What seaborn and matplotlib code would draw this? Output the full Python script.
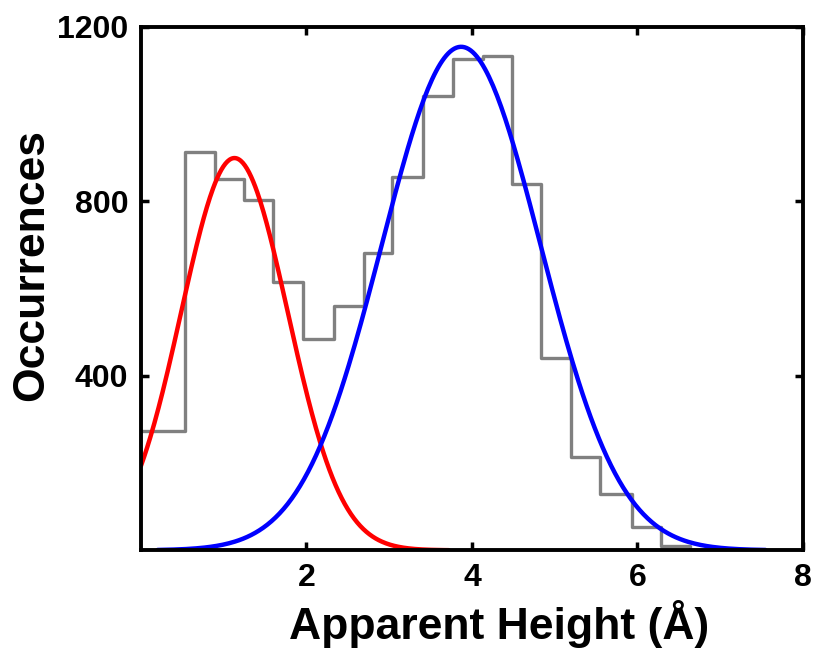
import numpy as np
import pandas as pd
import matplotlib
matplotlib.use("Agg")
import matplotlib.pyplot as plt
import seaborn as sns

# Histogram of apparent heights (bin edges in Angstrom, counts per bin)
bin_edges = [0.0, 0.53, 0.89, 1.24, 1.60, 1.96, 2.33, 2.69, 3.04, 3.41, 3.77,
             4.13, 4.48, 4.84, 5.20, 5.55, 5.94, 6.29, 6.64, 8.0]
counts = [273, 913, 851, 803, 615, 484, 560, 681, 856, 1041, 1126,
          1134, 839, 440, 213, 128, 53, 9, 0]

# Gaussian fit parameters: amplitude, centre, sigma, drawn range
red_fit = [899, 1.13, 0.645, 0.0, 3.72]
blue_fit = [1154, 3.87, 0.96, 0.20, 7.55]

sns.set_style("ticks")
plt.rcParams['font.family'] = ['Liberation Sans', 'DejaVu Sans']
plt.rcParams['font.weight'] = 'bold'
plt.rcParams['text.color'] = 'black'
plt.rcParams['axes.labelcolor'] = 'black'
plt.rcParams['xtick.color'] = 'black'
plt.rcParams['ytick.color'] = 'black'

fig = plt.figure(figsize=(8.15, 6.52), dpi=100)
ax = fig.add_axes([0.173, 0.156, 0.812, 0.803])

centers = [(a + b) / 2 for a, b in zip(bin_edges[:-1], bin_edges[1:])]
hist_df = pd.DataFrame({"height": centers, "n": counts})
sns.histplot(data=hist_df, x="height", weights="n", bins=bin_edges,
             element="step", fill=False, color="#808080", linewidth=2.4, ax=ax)


def gauss_curve(p):
    a, mu, s, x0, x1 = p
    xs = np.linspace(x0, x1, 300)
    return pd.DataFrame({"x": xs, "y": a * np.exp(-(xs - mu) ** 2 / (2 * s ** 2))})


sns.lineplot(data=gauss_curve(red_fit), x="x", y="y", color="#ff0000", linewidth=3.2, ax=ax)
sns.lineplot(data=gauss_curve(blue_fit), x="x", y="y", color="#0000ff", linewidth=3.2, ax=ax)

ax.set_xlim(0, 8)
ax.set_ylim(0, 1200)
ax.set_xticks([2, 4, 6, 8])
ax.set_yticks([400, 800, 1200])
ax.tick_params(direction="in", length=6, width=2.5, labelsize=23,
               top=True, right=True, pad=9, colors="black")
for lab in ax.get_xticklabels() + ax.get_yticklabels():
    lab.set_fontweight("bold")
for sp in ax.spines.values():
    sp.set_linewidth(2.8)
    sp.set_color("black")

ax.set_xlabel("Apparent Height (Å)", fontsize=32, fontweight="bold", labelpad=5)
ax.set_ylabel("Occurrences", fontsize=32, fontweight="bold", labelpad=4)
ax.xaxis.label.set_x(0.541)
ax.yaxis.label.set_y(0.545)

plt.savefig("out.png", dpi=100)
